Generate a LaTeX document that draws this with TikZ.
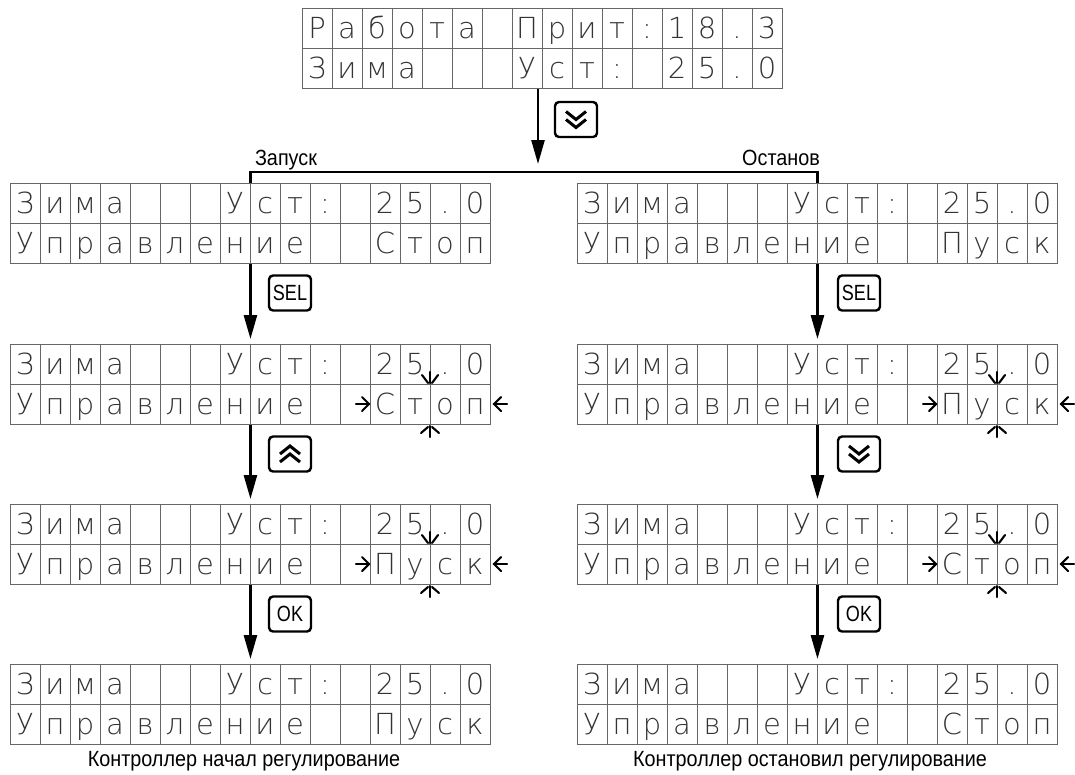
\documentclass[tikz,border=0pt]{standalone}
\usepackage{fontspec}
\usetikzlibrary{arrows.meta}
\newfontfamily\lcdfont{DejaVuSans-ExtraLight.ttf}
\newfontfamily\narrowfont[FakeStretch=0.82]{Liberation Sans}
\newfontfamily\labelfont[FakeStretch=0.9]{Liberation Sans}

\tikzset{
  lcdgrid/.style={draw=black!60, line width=0.9pt},
  lcdframe/.style={draw=black!60, line width=0.9pt, rectangle, minimum width=480pt, minimum height=80pt, inner sep=0pt, anchor=north west},
  lcdch/.style={anchor=base, inner sep=0pt, font=\lcdfont\fontsize{29}{29}\selectfont, text=black!80},
  arr/.style={line width=2.6pt, -{Triangle[length=24pt,width=13pt]}, shorten >=5pt},
  keybox/.style={draw, line width=2.4pt, rounded corners=4pt, minimum width=42pt, minimum height=35pt, inner sep=1pt, font=\narrowfont\fontsize{22}{22}\selectfont},
  lbl/.style={font=\labelfont\fontsize{22}{22}\selectfont, inner sep=0pt, anchor=base},
  captxt/.style={font=\labelfont\fontsize{22}{22}\selectfont, inner sep=0pt, anchor=base},
  cmark/.style={line width=2.1pt, line cap=round},
  icon/.style={line width=3pt},
  bline/.style={line width=2.6pt},
}

\newcommand\lcdpanel[5]{%
  \node[lcdframe] (#1) at (#2,#3) {};
  \foreach \k in {1,...,15} \draw[lcdgrid] ({#2+30*\k},#3) -- ({#2+30*\k},{#3+80});
  \draw[lcdgrid] (#2,{#3+40}) -- ({#2+480},{#3+40});
  \foreach \c [count=\i] in {#4} \node[lcdch] (#1a\i) at ({#2+30*\i-15},{#3+30}) {\c};
  \foreach \c [count=\i] in {#5} \node[lcdch] (#1b\i) at ({#2+30*\i-15},{#3+70}) {\c};
}
\newcommand\cursormarks[2]{%
  \draw[cmark] ({#1+420},{#2+28}) -- ({#1+420},{#2+39});
  \draw[cmark] ({#1+412},{#2+31}) -- ({#1+418},{#2+39});
  \draw[cmark] ({#1+428},{#2+31}) -- ({#1+422},{#2+39});
  \draw[cmark] ({#1+420},{#2+82}) -- ({#1+420},{#2+93});
  \draw[cmark] ({#1+418},{#2+83}) -- ({#1+411},{#2+89});
  \draw[cmark] ({#1+422},{#2+83}) -- ({#1+429},{#2+89});
  \draw[cmark] ({#1+346},{#2+60}) -- ({#1+359},{#2+60});
  \draw[cmark] ({#1+352},{#2+53}) -- ({#1+359},{#2+60}) -- ({#1+352},{#2+67});
  \draw[cmark] ({#1+484},{#2+60}) -- ({#1+497},{#2+60});
  \draw[cmark] ({#1+491},{#2+53}) -- ({#1+484},{#2+60}) -- ({#1+491},{#2+67});
}
\newcommand\chevdown[1]{%
  \draw[icon] ([shift={(-10,-8)}]#1.center) -- ([shift={(0,0)}]#1.center) -- ([shift={(10,-8)}]#1.center);
  \draw[icon] ([shift={(-10,0)}]#1.center) -- ([shift={(0,8)}]#1.center) -- ([shift={(10,0)}]#1.center);
}
\newcommand\chevup[1]{%
  \draw[icon] ([shift={(-10,8)}]#1.center) -- ([shift={(0,0)}]#1.center) -- ([shift={(10,8)}]#1.center);
  \draw[icon] ([shift={(-10,0)}]#1.center) -- ([shift={(0,-8)}]#1.center) -- ([shift={(10,0)}]#1.center);
}

\begin{document}
\begin{tikzpicture}[x=1pt,y=-1pt]
\useasboundingbox[fill=white] (0,0) rectangle (1075,774);

% top display
\lcdpanel{T}{302}{8}{Р,а,б,о,т,а,,П,р,и,т,:,1,8,.,3}{З,и,м,а,,,,У,с,т,:,,2,5,.,0}

% left column
\lcdpanel{La}{10}{183}{З,и,м,а,,,,У,с,т,:,,2,5,.,0}{У,п,р,а,в,л,е,н,и,е,,,С,т,о,п}
\lcdpanel{Lb}{10}{344}{З,и,м,а,,,,У,с,т,:,,2,5,.,0}{У,п,р,а,в,л,е,н,и,е,,,С,т,о,п}
\lcdpanel{Lc}{10}{504}{З,и,м,а,,,,У,с,т,:,,2,5,.,0}{У,п,р,а,в,л,е,н,и,е,,,П,у,с,к}
\lcdpanel{Ld}{10}{664}{З,и,м,а,,,,У,с,т,:,,2,5,.,0}{У,п,р,а,в,л,е,н,и,е,,,П,у,с,к}
\cursormarks{10}{344}
\cursormarks{10}{504}

% right column
\lcdpanel{Ra}{577}{183}{З,и,м,а,,,,У,с,т,:,,2,5,.,0}{У,п,р,а,в,л,е,н,и,е,,,П,у,с,к}
\lcdpanel{Rb}{577}{344}{З,и,м,а,,,,У,с,т,:,,2,5,.,0}{У,п,р,а,в,л,е,н,и,е,,,П,у,с,к}
\lcdpanel{Rc}{577}{504}{З,и,м,а,,,,У,с,т,:,,2,5,.,0}{У,п,р,а,в,л,е,н,и,е,,,С,т,о,п}
\lcdpanel{Rd}{577}{664}{З,и,м,а,,,,У,с,т,:,,2,5,.,0}{У,п,р,а,в,л,е,н,и,е,,,С,т,о,п}
\cursormarks{577}{344}
\cursormarks{577}{504}

% branching
\coordinate (J) at (538,172);
\draw[arr, shorten >=8pt] (T.south -| J) -- (J);
\draw[bline] (La.north) -- (La.north |- J) -- (Ra.north |- J) -- (Ra.north);
\node[keybox] (kT) at (576,119.5) {};
\chevdown{kT}
\node[lbl] (lz) at (286,165) {Запуск};
\node[lbl] (lo) at (781,165) {Останов};

% left arrows and keys
\draw[arr] (La.south) -- (Lb.north);
\draw[arr] (Lb.south) -- (Lc.north);
\draw[arr] (Lc.south) -- (Ld.north);
\node[keybox] (kL1) at (290,293) {SEL};
\node[keybox] (kL2) at (290,454) {};
\chevup{kL2}
\node[keybox] (kL3) at (290,614) {OK};

% right arrows and keys
\draw[arr] (Ra.south) -- (Rb.north);
\draw[arr] (Rb.south) -- (Rc.north);
\draw[arr] (Rc.south) -- (Rd.north);
\node[keybox] (kR1) at (859,293) {SEL};
\node[keybox] (kR2) at (859,454) {};
\chevdown{kR2}
\node[keybox] (kR3) at (859,614) {OK};

% captions
\node[captxt] (cL) at (244,766) {Контроллер начал регулирование};
\node[captxt] (cR) at (810,766) {Контроллер остановил регулирование};
\end{tikzpicture}
\end{document}
